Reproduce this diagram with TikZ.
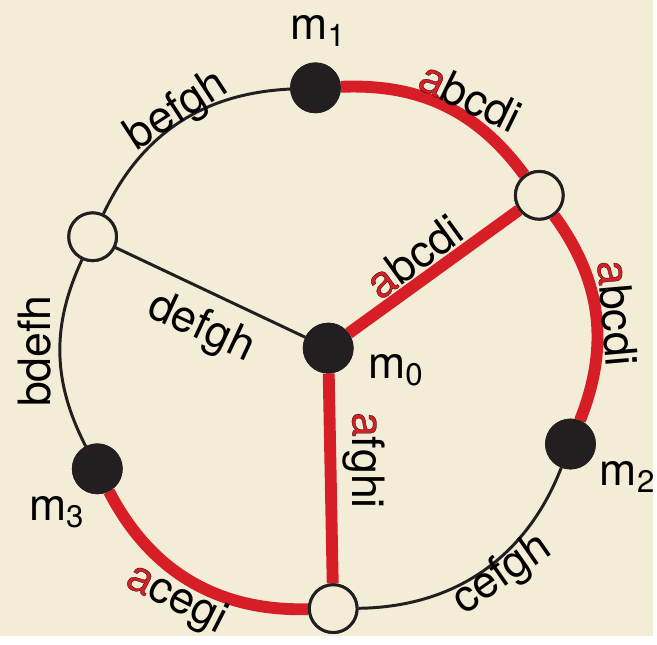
\documentclass[tikz,border=0pt]{standalone}
\usepackage{fontspec}
\setmainfont{TeX Gyre Heros}
\definecolor{paper}{RGB}{243,236,215}
\definecolor{pathred}{RGB}{215,30,38}
\definecolor{ink}{RGB}{35,31,32}
\newcommand{\redA}{\textcolor{pathred}{\special{pdf:literal direct 0 0 0 RG 0.15 w 2 Tr}a\special{pdf:literal direct 0 Tr}}}
\begin{document}
\begin{tikzpicture}[
    site/.style={circle, draw=ink, line width=1.7pt, minimum size=0.96cm, inner sep=0pt},
    thinlink/.style={draw=ink, line width=1.7pt},
    redlink/.style={draw=pathred, line width=6.8pt},
    lbl/.style={font=\fontsize{25.5}{30}\selectfont, inner sep=1pt}
]
    % Paper
    \fill[paper] (-6.6,-5.78) rectangle (6.54,7.0);

    % Black and white sites on the ring
    \node[site, fill=ink] (m0) at (0,0) {};
    \foreach \n/\a in {m1/92.8, m2/-21.6, m3/207.6} {
        \node[site, fill=ink] (\n) at (\a:5.24) {};
    }
    \foreach \n/\a in {wr/35.9, wb/-88.9, wl/154.7} {
        \node[site, fill=paper] (\n) at (\a:5.24) {};
    }

    % Ring and spokes
    \draw[thinlink] (wl) to[bend left=31] (m1);
    \draw[thinlink] (m3) to[bend left=26] (wl);
    \draw[thinlink] (m2) to[bend left=34] (wb);
    \draw[thinlink] (wl) -- (m0);
    \draw[redlink] (m1) to[bend left=28] (wr);
    \draw[redlink] (wr) to[bend left=29] (m2);
    \draw[redlink] (wb) to[bend left=32] (m3);
    \draw[redlink] (m0) -- (wr);
    \draw[redlink] (m0) -- (wb);

    % Redraw sites over the links
    \node[site, fill=ink] at (m0) {};
    \foreach \n in {m1,m2,m3} { \node[site, fill=ink] at (\n) {}; }
    \foreach \n in {wr,wb,wl} { \node[site, fill=paper] at (\n) {}; }

    % Site names
    \node[lbl] (t1) at (-0.2,6.38) {m\textsubscript{1}};
    \node[lbl] (t0) at (1.36,-0.44) {m\textsubscript{0}};
    \node[lbl] (t2) at (6.02,-2.6) {m\textsubscript{2}};
    \node[lbl] (t3) at (-5.46,-3.3) {m\textsubscript{3}};

    % Link labels
    \node[lbl, rotate=-26] (l1) at (2.86,5.06) {\redA bcdi};
    \node[lbl, rotate=33] (l2) at (-3.04,4.76) {befgh};
    \node[lbl, rotate=36] (l3) at (1.72,1.84) {\redA bcdi};
    \node[lbl, rotate=-85] (l4) at (5.82,0.7) {\redA bcdi};
    \node[lbl, rotate=-25] (l5) at (-2.56,0.4) {defgh};
    \node[lbl, rotate=90] (l6) at (-5.9,-0.06) {bdefh};
    \node[lbl, rotate=-90] (l7) at (0.72,-2.26) {\redA fghi};
    \node[lbl, rotate=-27] (l8) at (-3.06,-5.06) {\redA cegi};
    \node[lbl, rotate=35] (l9) at (3.5,-4.56) {cefgh};
\end{tikzpicture}
\end{document}
